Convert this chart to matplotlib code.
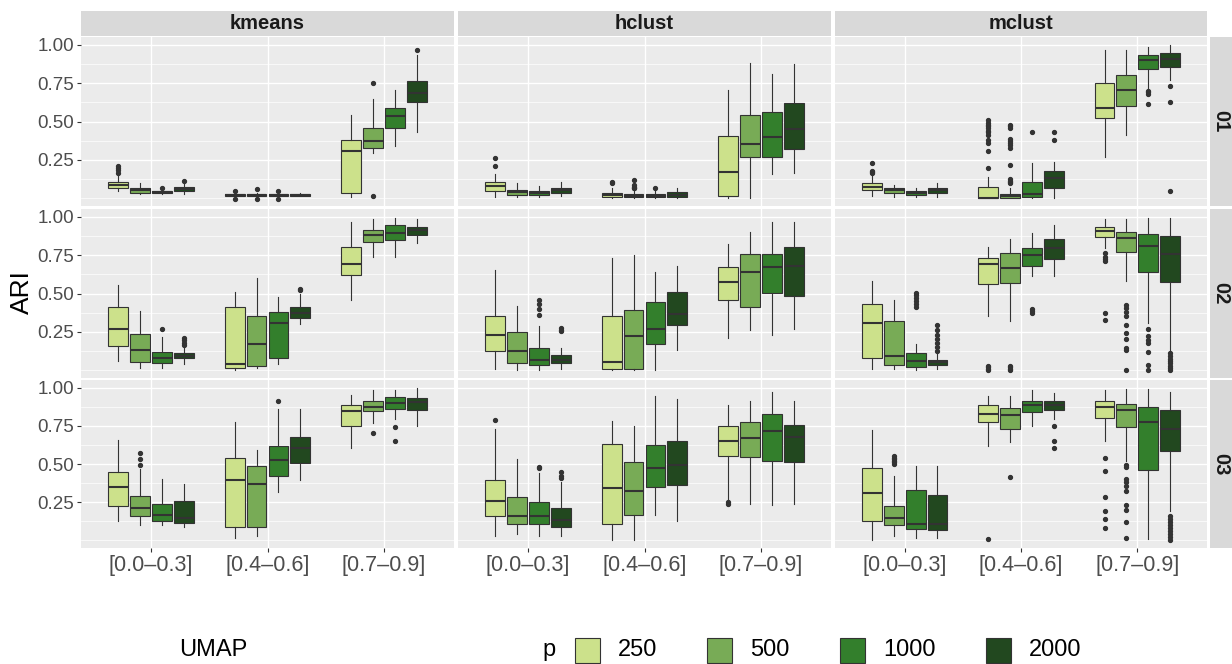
import matplotlib.pyplot as plt
from matplotlib.patches import Rectangle

plt.rcParams['font.family'] = ['Liberation Sans', 'DejaVu Sans']

methods = ["kmeans", "hclust", "mclust"]
dims = ["01", "02", "03"]
ranges = ["[0.0\u20130.3]", "[0.4\u20130.6]", "[0.7\u20130.9]"]
p_levels = ["250", "500", "1000", "2000"]
p_colors = ["#cce18b", "#78ab56", "#337f2c", "#22481f"]

# box stats (whisker low, q1, median, q3, whisker high)
# order: range 1 (p 250, 500, 1000, 2000), range 2 (...), range 3 (...)
kmeans_01 = [(0.05, 0.068, 0.088, 0.107, 0.145), (0.028, 0.035, 0.053, 0.07, 0.10),
             (0.028, 0.035, 0.042, 0.05, 0.06), (0.028, 0.046, 0.059, 0.072, 0.09),
             (0.01, 0.015, 0.022, 0.028, 0.035), (0.01, 0.015, 0.022, 0.028, 0.035),
             (0.01, 0.015, 0.022, 0.028, 0.035), (0.012, 0.016, 0.022, 0.028, 0.034),
             (0.009, 0.035, 0.305, 0.38, 0.54), (0.298, 0.327, 0.37, 0.46, 0.649),
             (0.34, 0.459, 0.537, 0.59, 0.708), (0.432, 0.627, 0.684, 0.763, 0.93)]
kmeans_01_out = [[0.166, 0.182, 0.195, 0.21], [], [0.07], [0.11],
                 [-0.004, 0.05], [-0.004, 0.058], [-0.004, 0.05], [],
                 [], [0.018, 0.75], [], [0.963]]

hclust_01 = [(0.009, 0.046, 0.077, 0.107, 0.156), (0.009, 0.024, 0.04, 0.057, 0.097),
             (0.009, 0.024, 0.035, 0.05, 0.077), (0.018, 0.033, 0.052, 0.07, 0.105),
             (0.0, 0.009, 0.02, 0.035, 0.064), (0.0, 0.007, 0.015, 0.028, 0.05),
             (0.0, 0.007, 0.015, 0.028, 0.05), (0.0, 0.009, 0.02, 0.042, 0.066),
             (0.0, 0.018, 0.169, 0.408, 0.708), (0.0, 0.268, 0.353, 0.54, 0.88),
             (0.16, 0.268, 0.40, 0.561, 0.81), (0.168, 0.32, 0.454, 0.623, 0.872)]
hclust_01_out = [[0.208, 0.26], [], [], [],
                 [0.1, 0.105], [0.065, 0.07, 0.075, 0.085, 0.116], [0.07], [],
                 [], [], [], []]

mclust_01 = [(0.018, 0.053, 0.074, 0.097, 0.156), (0.009, 0.035, 0.053, 0.068, 0.088),
             (0.009, 0.024, 0.037, 0.05, 0.066), (0.009, 0.035, 0.053, 0.07, 0.097),
             (0.0, 0.0, 0.003, 0.074, 0.138), (0.0, 0.0, 0.013, 0.028, 0.07),
             (0.0, 0.007, 0.031, 0.107, 0.228), (0.0, 0.068, 0.134, 0.18, 0.237),
             (0.27, 0.52, 0.59, 0.752, 0.963), (0.41, 0.599, 0.706, 0.803, 0.963),
             (0.704, 0.84, 0.903, 0.934, 0.985), (0.77, 0.857, 0.906, 0.945, 1.0)]
mclust_01_out = [[0.165, 0.172, 0.178, 0.228], [], [], [],
                 [0.2, 0.309, 0.36, 0.38, 0.41, 0.43, 0.44, 0.455, 0.47, 0.48, 0.49, 0.507],
                 [0.1, 0.108, 0.115, 0.128, 0.22, 0.33, 0.35, 0.36, 0.37, 0.385, 0.46, 0.47, 0.48],
                 [0.43], [0.38, 0.43],
                 [], [], [0.612, 0.682, 0.69, 0.697], [0.045, 0.63, 0.73]]

kmeans_02 = [(0.059, 0.158, 0.268, 0.41, 0.553), (0.015, 0.057, 0.134, 0.239, 0.388),
             (0.017, 0.048, 0.079, 0.118, 0.217), (0.04, 0.077, 0.092, 0.112, 0.158),
             (0.0, 0.018, 0.039, 0.41, 0.509), (0.017, 0.026, 0.169, 0.351, 0.6),
             (0.039, 0.077, 0.309, 0.377, 0.48), (0.3, 0.34, 0.373, 0.412, 0.50),
             (0.46, 0.623, 0.689, 0.805, 0.965), (0.735, 0.833, 0.884, 0.912, 0.985),
             (0.735, 0.851, 0.893, 0.945, 0.99), (0.827, 0.882, 0.914, 0.936, 0.985)]
kmeans_02_out = [[], [], [0.27], [0.166, 0.18, 0.195, 0.208],
                 [], [], [], [0.52, 0.527],
                 [], [], [], []]

hclust_02 = [(0.009, 0.125, 0.23, 0.351, 0.651), (0.0, 0.048, 0.123, 0.25, 0.42),
             (0.0, 0.037, 0.068, 0.147, 0.289), (0.009, 0.048, 0.07, 0.099, 0.147),
             (0.0, 0.009, 0.053, 0.355, 0.732), (0.0, 0.009, 0.224, 0.393, 0.75),
             (0.0, 0.171, 0.27, 0.445, 0.64), (0.132, 0.298, 0.366, 0.513, 0.68),
             (0.21, 0.459, 0.574, 0.675, 0.82), (0.261, 0.41, 0.64, 0.759, 0.901),
             (0.232, 0.502, 0.671, 0.755, 0.963), (0.272, 0.485, 0.678, 0.803, 0.963)]
hclust_02_out = [[], [], [0.36, 0.4, 0.432, 0.459], [0.255, 0.265, 0.276],
                 [], [], [], [],
                 [], [], [], []]

mclust_02 = [(0.009, 0.077, 0.309, 0.432, 0.579), (0.009, 0.037, 0.09, 0.322, 0.459),
             (0.0, 0.024, 0.059, 0.11, 0.169), (0.009, 0.037, 0.053, 0.07, 0.103),
             (0.355, 0.561, 0.693, 0.732, 0.8), (0.322, 0.568, 0.664, 0.761, 0.853),
             (0.614, 0.682, 0.748, 0.794, 0.893), (0.614, 0.722, 0.794, 0.853, 0.943),
             (0.794, 0.87, 0.908, 0.932, 0.985), (0.579, 0.772, 0.864, 0.903, 0.985),
             (0.311, 0.64, 0.807, 0.886, 0.99), (0.125, 0.572, 0.757, 0.875, 0.99)]
mclust_02_out = [[], [], [0.41, 0.432, 0.452, 0.469, 0.487, 0.505],
                 [0.125, 0.153, 0.18, 0.202, 0.232, 0.263, 0.294],
                 [0.0, 0.01, 0.02, 0.03], [0.0, 0.01, 0.02, 0.03], [0.37, 0.385, 0.399], [],
                 [0.329, 0.37, 0.711, 0.725, 0.739, 0.765],
                 [0.005, 0.132, 0.147, 0.202, 0.245, 0.294, 0.355, 0.377, 0.403, 0.425],
                 [0.0, 0.037, 0.118, 0.175, 0.197, 0.224, 0.272],
                 [0.0, 0.015, 0.03, 0.045, 0.06, 0.075, 0.09, 0.11]]

kmeans_03 = [(0.127, 0.226, 0.347, 0.445, 0.66), (0.1, 0.16, 0.215, 0.289, 0.467),
             (0.1, 0.127, 0.169, 0.241, 0.401), (0.088, 0.116, 0.149, 0.261, 0.368),
             (0.018, 0.09, 0.393, 0.537, 0.774), (0.028, 0.09, 0.37, 0.485, 0.592),
             (0.314, 0.419, 0.524, 0.616, 0.862), (0.395, 0.504, 0.603, 0.675, 0.862),
             (0.603, 0.752, 0.847, 0.884, 0.954), (0.768, 0.844, 0.875, 0.912, 0.985),
             (0.796, 0.86, 0.897, 0.936, 0.985), (0.752, 0.851, 0.903, 0.932, 1.0)]
kmeans_03_out = [[], [0.491, 0.533, 0.572], [], [],
                 [], [], [0.914], [],
                 [], [0.704], [0.653, 0.741], []]

hclust_03 = [(0.028, 0.16, 0.259, 0.393, 0.73), (0.039, 0.11, 0.16, 0.281, 0.533),
             (0.028, 0.11, 0.16, 0.248, 0.439), (0.028, 0.09, 0.134, 0.213, 0.384),
             (0.0, 0.11, 0.342, 0.632, 0.781), (0.0, 0.169, 0.32, 0.511, 0.752),
             (0.167, 0.349, 0.476, 0.625, 0.945), (0.127, 0.36, 0.491, 0.653, 0.923),
             (0.263, 0.551, 0.653, 0.746, 0.884), (0.237, 0.544, 0.671, 0.774, 0.912),
             (0.23, 0.52, 0.715, 0.825, 0.971), (0.237, 0.511, 0.675, 0.757, 0.912)]
hclust_03_out = [[0.785], [], [0.475, 0.482], [0.41, 0.42, 0.447],
                 [], [], [], [],
                 [0.24, 0.248], [], [], []]

mclust_03 = [(0.0, 0.129, 0.307, 0.474, 0.721), (0.028, 0.099, 0.147, 0.228, 0.419),
             (0.018, 0.077, 0.11, 0.331, 0.489), (0.018, 0.068, 0.105, 0.294, 0.489),
             (0.621, 0.772, 0.829, 0.886, 0.943), (0.643, 0.732, 0.822, 0.866, 0.943),
             (0.752, 0.842, 0.886, 0.914, 0.985), (0.796, 0.851, 0.888, 0.914, 0.965),
             (0.653, 0.803, 0.871, 0.912, 0.982), (0.522, 0.739, 0.853, 0.895, 0.993),
             (0.007, 0.46, 0.774, 0.875, 0.993), (0.193, 0.583, 0.732, 0.855, 0.971)]
mclust_03_out = [[], [0.5, 0.51, 0.52, 0.53, 0.54, 0.555], [], [],
                 [0.007], [0.412], [], [0.603, 0.653, 0.752],
                 [0.079, 0.14, 0.193, 0.281, 0.452, 0.541],
                 [0.018, 0.12, 0.2, 0.232, 0.324, 0.353, 0.38, 0.401, 0.478, 0.493],
                 [], [0.005, 0.02, 0.04, 0.06, 0.08, 0.1, 0.12, 0.14, 0.16]]

panels = {
    ("kmeans", "01"): (kmeans_01, kmeans_01_out),
    ("hclust", "01"): (hclust_01, hclust_01_out),
    ("mclust", "01"): (mclust_01, mclust_01_out),
    ("kmeans", "02"): (kmeans_02, kmeans_02_out),
    ("hclust", "02"): (hclust_02, hclust_02_out),
    ("mclust", "02"): (mclust_02, mclust_02_out),
    ("kmeans", "03"): (kmeans_03, kmeans_03_out),
    ("hclust", "03"): (hclust_03, hclust_03_out),
    ("mclust", "03"): (mclust_03, mclust_03_out),
}

W, H = 1232, 664
fig = plt.figure(figsize=(W / 100, H / 100), dpi=100)


def px_box(x0, y0, x1, y1):
    # pixel rectangle (top-left origin) -> figure fraction
    return [x0 / W, 1 - y1 / H, (x1 - x0) / W, (y1 - y0) / H]


col_px = [(81, 454), (458, 831), (835, 1207)]
row_px = [(37, 206), (209, 378), (380, 548)]
edge = "#333333"
tick_col = "#4D4D4D"

for r, d in enumerate(dims):
    for c, m in enumerate(methods):
        ax = fig.add_axes(px_box(col_px[c][0], row_px[r][0], col_px[c][1], row_px[r][1]))
        ax.set_facecolor("#EBEBEB")
        st, outs = panels[(m, d)]
        stats = []
        pos = []
        for i, (lo, q1, med, q3, hi) in enumerate(st):
            ci, gi = divmod(i, 4)
            stats.append(dict(whislo=lo, q1=q1, med=med, q3=q3, whishi=hi, fliers=outs[i]))
            pos.append(ci + 1 + (gi - 1.5) * 0.1875)
        art = ax.bxp(stats, positions=pos, widths=0.17, patch_artist=True, showcaps=False,
                     boxprops=dict(edgecolor=edge, linewidth=0.8),
                     medianprops=dict(color=edge, linewidth=1.5),
                     whiskerprops=dict(color=edge, linewidth=0.8),
                     flierprops=dict(marker="o", markersize=2.8, markerfacecolor=edge,
                                     markeredgecolor=edge, linestyle="none"))
        for i, b in enumerate(art["boxes"]):
            b.set_facecolor(p_colors[i % 4])
        ax.set_xlim(0.4, 3.6)
        ax.set_ylim(-0.05, 1.05)
        ax.set_xticks([1, 2, 3])
        ax.set_yticks([0.25, 0.5, 0.75, 1.0])
        ax.set_yticks([0.0, 0.125, 0.375, 0.625, 0.875], minor=True)
        ax.set_axisbelow(True)
        ax.grid(which="major", color="white", linewidth=1.0)
        ax.grid(which="minor", axis="y", color="white", linewidth=0.5)
        for s in ax.spines.values():
            s.set_visible(False)
        ax.tick_params(which="minor", length=0)
        ax.tick_params(which="major", length=3, width=0.8, color=edge, pad=2,
                       labelcolor=tick_col)
        if c == 0:
            ax.set_yticklabels(["0.25", "0.50", "0.75", "1.00"], fontsize=13.5)
        else:
            ax.tick_params(axis="y", length=0, labelleft=False)
        if r == 2:
            ax.set_xticklabels(ranges, fontsize=15.5)
        else:
            ax.tick_params(axis="x", length=0, labelbottom=False)

# top strips
for c, m in enumerate(methods):
    sa = fig.add_axes(px_box(col_px[c][0], 11, col_px[c][1], 36))
    sa.set_facecolor("#D9D9D9")
    sa.set_xticks([])
    sa.set_yticks([])
    for s in sa.spines.values():
        s.set_visible(False)
    sa.text(0.5, 0.5, m, transform=sa.transAxes, ha="center", va="center",
            fontsize=14.5, fontweight="bold", color="#1A1A1A")

# right strips
for r, d in enumerate(dims):
    sa = fig.add_axes(px_box(1210, row_px[r][0], 1232, row_px[r][1]))
    sa.set_facecolor("#D9D9D9")
    sa.set_xticks([])
    sa.set_yticks([])
    for s in sa.spines.values():
        s.set_visible(False)
    sa.text(0.5, 0.5, d, transform=sa.transAxes, ha="center", va="center",
            rotation=-90, fontsize=14.5, fontweight="bold", color="#1A1A1A")

fig.text(22 / W, 1 - 292 / H, "ARI", rotation=90, ha="center", va="center", fontsize=19)

# legend
fig.text(179 / W, 1 - 650 / H, "UMAP", ha="left", va="center", fontsize=17)
fig.text(542 / W, 1 - 650 / H, "p", ha="left", va="center", fontsize=17)
key_x = [575, 707, 840, 986]
for k, lab in enumerate(p_levels):
    fig.add_artist(Rectangle((key_x[k] / W, 1 - 663 / H), 25 / W, 25 / H,
                             transform=fig.transFigure, facecolor=p_colors[k],
                             edgecolor=edge, linewidth=0.8))
    fig.text((key_x[k] + 43) / W, 1 - 650 / H, lab, ha="left", va="center", fontsize=17)

fig.savefig("out.png", dpi=100)
